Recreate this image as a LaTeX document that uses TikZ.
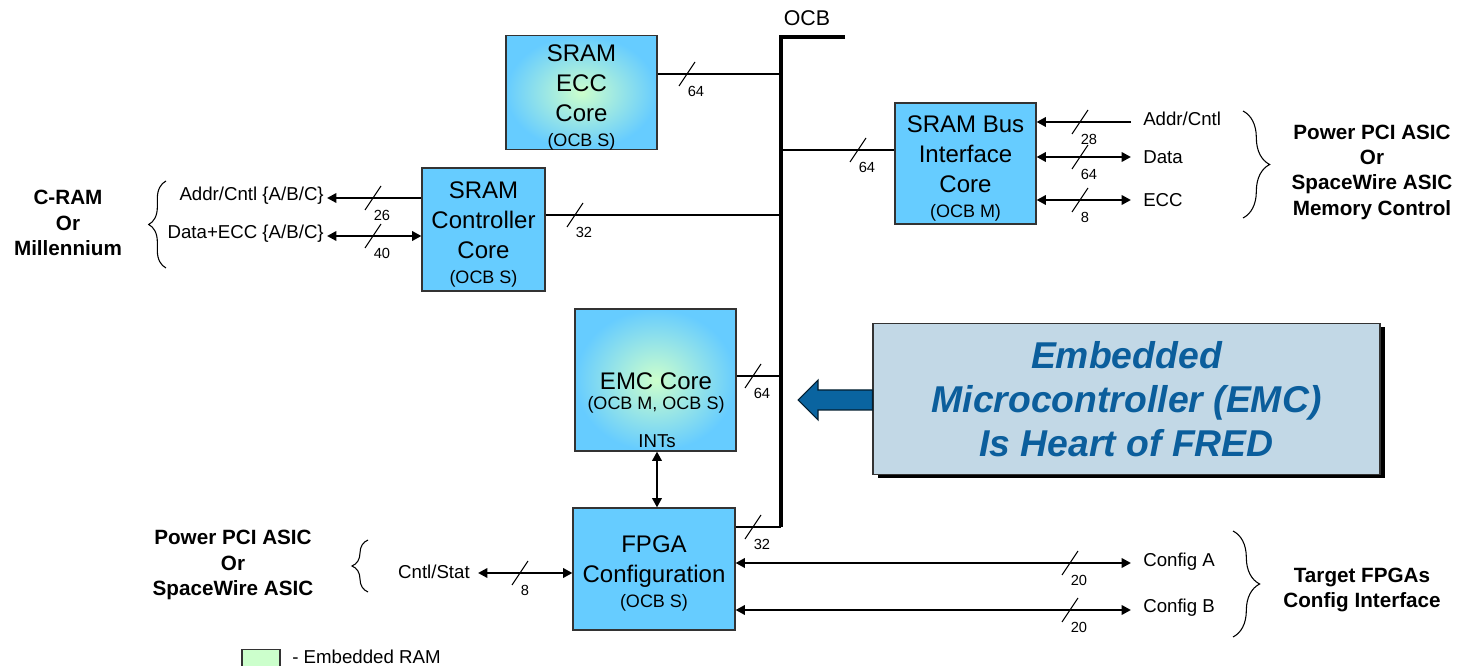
\documentclass[tikz,border=0pt]{standalone}
\usepackage{fontspec}
\setmainfont{Liberation Sans}
\usetikzlibrary{arrows.meta,decorations.pathreplacing,calc}
\definecolor{boxblue}{HTML}{66CCFF}
\definecolor{ramgreen}{HTML}{CCFFCC}
\definecolor{emcbg}{HTML}{C2D8E6}
\definecolor{emctext}{HTML}{0B5E9C}
\definecolor{arrowblue}{HTML}{0A64A0}
\definecolor{edgegray}{HTML}{333333}
\newcommand\subtxt[1]{{\fontsize{13.5}{15}\selectfont #1}}
\newcommand\topstrut{\rule{0pt}{19.5pt}}
\newcommand\bwmark[3]{%
  \draw[slashmark] ($#1+(-8,12)$) -- ($#1+(8,-12)$);
  \node[buslabel] (#2) at ($#1+(0.5,17)$) {#3};}
\begin{document}
\begin{tikzpicture}[x=0.75pt,y=-0.75pt,
  core/.style={draw=edgegray, line width=0.8pt, fill=boxblue, align=center, inner sep=0pt,
     font=\fontsize{18}{22.5}\selectfont},
  ramcore/.style={core, inner color=ramgreen, outer color=boxblue, shading=radial},
  busline/.style={line width=2.8pt},
  conn/.style={line width=2.2pt},
  sig/.style={line width=1.8pt},
  slashmark/.style={line width=0.8pt},
  buslabel/.style={anchor=west, inner sep=0pt, font=\fontsize{11}{12}\selectfont},
  lbl/.style={inner sep=0pt, font=\fontsize{14}{16}\selectfont},
  side/.style={align=center, inner sep=0pt, font=\fontsize{15.5}{19}\selectfont\bfseries},
  bracebrace/.style={decorate, line width=0.8pt},
]
\useasboundingbox (0,0) rectangle (1457,666);

% ---------- blocks ----------
\node[ramcore, minimum width=113.25pt, minimum height=84.75pt] (ecc) at (581.5,92.5)
  {\topstrut SRAM\\ECC\\Core\\[-3.75pt]\subtxt{(OCB S)}};
\node[core, minimum width=92.25pt, minimum height=92.25pt] (ctl) at (483.5,229.5)
  {\topstrut SRAM\\Controller\\Core\\[-3.75pt]\subtxt{(OCB S)}};
\node[core, minimum width=105.75pt, minimum height=90.75pt] (bif) at (965.5,163.5)
  {\topstrut SRAM Bus\\Interface\\Core\\[-3.75pt]\subtxt{(OCB M)}};
\node[ramcore, minimum width=120.75pt, minimum height=106.5pt] (emc) at (655.5,380) {};
\node[inner sep=0pt, align=center, font=\fontsize{18}{22.5}\selectfont] (emct) at (656,393)
  {EMC Core\\[-7pt]\subtxt{(OCB M, OCB S)}};
\node[inner sep=0pt, font=\fontsize{14}{16}\selectfont] (ints) at (657,441) {INTs};
\node[core, minimum width=121.5pt, minimum height=91.5pt] (fpga) at (654,569)
  {\topstrut FPGA\\Configuration\\[-3.75pt]\subtxt{(OCB S)}};

% ---------- big note ----------
\fill[black] (878,327) rectangle (1385,478);
\node[draw=edgegray, line width=0.8pt, fill=emcbg, minimum width=380.25pt, minimum height=113.25pt,
  align=center, text=emctext, font=\fontsize{28}{33}\selectfont\bfseries\itshape] (note) at (1126.5,399)
  {Embedded\\Microcontroller (EMC)\\Is Heart of FRED};
\draw[fill=arrowblue, draw=black!70!arrowblue, line width=0.8pt]
  (note.west |- 0,390) -- (818,390) -- (818,380) -- (798,400) -- (818,420) -- (818,410) -- (note.west |- 0,410) -- cycle;

% ---------- OCB bus ----------
\coordinate (bustop) at (781,37);
\coordinate (busend) at (845,37);
\coordinate (busbot) at (781,527);
\draw[busline] (busend) -- (bustop) -- (busbot);
\node[inner sep=0pt, font=\fontsize{16}{18}\selectfont] (ocb) at (807,18) {OCB};

\draw[conn] (ecc.east |- 0,74) -- (bustop |- 0,74);
\draw[conn] (bustop |- 0,150) -- (bif.west |- 0,150);
\draw[conn] (ctl.east |- 0,215) -- (bustop |- 0,215);
\draw[conn] (emc.east |- 0,376) -- (bustop |- 0,376);
\draw[conn] (fpga.east |- 0,527) -- (busbot);
\bwmark{(687,74)}{w1}{64}
\bwmark{(858,150)}{w2}{64}
\bwmark{(575,215)}{w3}{32}
\bwmark{(753,376)}{w4}{64}
\bwmark{(753,527)}{w5}{32}

% ---------- EMC <-> FPGA ----------
\draw[sig, {Triangle[length=7pt,width=7pt]}-{Triangle[length=7pt,width=7pt]}]
  (emc.south -| 657,0) -- (fpga.north -| 657,0);

% ---------- SRAM controller side ----------
\coordinate (ca) at (327,198);
\coordinate (cd) at (327,236);
\draw[sig, -{Triangle[length=7pt,width=7pt]}] (ctl.west |- ca) -- (ca);
\draw[sig, {Triangle[length=7pt,width=7pt]}-{Triangle[length=7pt,width=7pt]}] (cd) -- (ctl.west |- cd);
\bwmark{(373,198)}{w6}{26}
\bwmark{(373,236)}{w7}{40}
\node[lbl, anchor=east] (tca) at (324,196) {Addr/Cntl \{A/B/C\}};
\node[lbl, anchor=east] (tcd) at (324,234) {Data+ECC \{A/B/C\}};
\draw[bracebrace, decoration={brace, amplitude=13pt}] (166,268) -- (166,181);
\node[side] (cram) at (68,223) {C-RAM\\Or\\Millennium};

% ---------- SRAM bus interface side ----------
\coordinate (ba) at (1131,122);
\coordinate (bd) at (1131,157);
\coordinate (be) at (1131,200);
\draw[sig, -{Triangle[length=7pt,width=7pt]}] (ba) -- (bif.east |- ba);
\draw[sig, {Triangle[length=7pt,width=7pt]}-{Triangle[length=7pt,width=7pt]}] (bif.east |- bd) -- (bd);
\draw[sig, {Triangle[length=7pt,width=7pt]}-{Triangle[length=7pt,width=7pt]}] (bif.east |- be) -- (be);
\bwmark{(1080,122)}{w8}{28}
\bwmark{(1080,157)}{w9}{64}
\bwmark{(1080,200)}{w10}{8}
\node[lbl, anchor=west] (tba) at (1143,119) {Addr/Cntl};
\node[lbl, anchor=west] (tbd) at (1143,157) {Data};
\node[lbl, anchor=west] (tbe) at (1143,200) {ECC};
\draw[bracebrace, decoration={brace, amplitude=20pt}] (1243,111) -- (1243,218);
\node[side] (ppc1) at (1372,172) {Power PCI ASIC\\Or\\SpaceWire ASIC\\Memory Control};

% ---------- FPGA side ----------
\coordinate (cs) at (478,573);
\draw[sig, {Triangle[length=7pt,width=7pt]}-{Triangle[length=7pt,width=7pt]}] (cs) -- (fpga.west |- cs);
\bwmark{(520,573)}{w11}{8}
\node[lbl, anchor=east] (tcs) at (470,572) {Cntl/Stat};
\draw[bracebrace, decoration={brace, amplitude=12pt}] (368,592) -- (368,540);
\node[side] (ppc2) at (233,565) {Power PCI ASIC\\Or\\SpaceWire ASIC};

\coordinate (cfa) at (1131,563);
\coordinate (cfb) at (1131,610);
\draw[sig, {Triangle[length=7pt,width=7pt]}-{Triangle[length=7pt,width=7pt]}] (fpga.east |- cfa) -- (cfa);
\draw[sig, {Triangle[length=7pt,width=7pt]}-{Triangle[length=7pt,width=7pt]}] (fpga.east |- cfb) -- (cfb);
\bwmark{(1070,563)}{w12}{20}
\bwmark{(1070,610)}{w13}{20}
\node[lbl, anchor=west] (tcfa) at (1143,562) {Config A};
\node[lbl, anchor=west] (tcfb) at (1143,608) {Config B};
\draw[bracebrace, decoration={brace, amplitude=20pt}] (1233,531) -- (1233,637);
\node[side] (tgt) at (1362,590) {Target FPGAs\\Config Interface};

% ---------- legend ----------
\node[draw=edgegray, line width=0.8pt, fill=ramgreen, minimum width=28.5pt, minimum height=16pt, inner sep=0pt] (leg) at (261,660) {};
\node[lbl, anchor=west] (legt) at (292,657) {- Embedded RAM};
\end{tikzpicture}
\end{document}
